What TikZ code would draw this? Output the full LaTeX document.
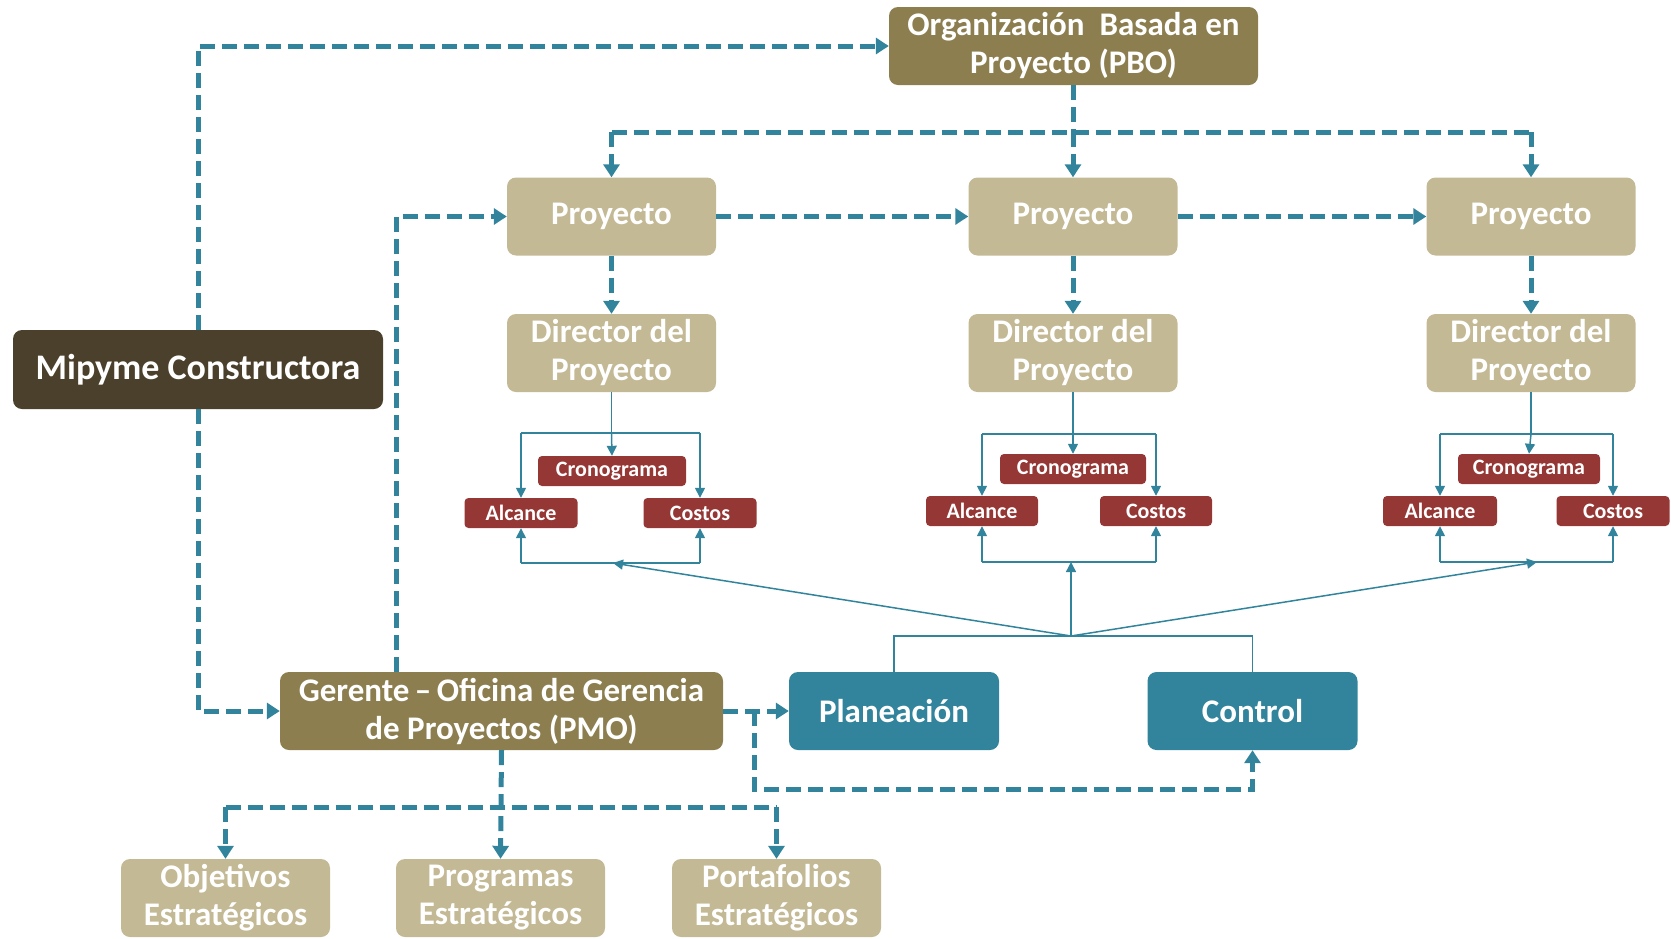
\documentclass[tikz,border=0pt]{standalone}
\usepackage{fontspec}
\setmainfont{Carlito}
\usetikzlibrary{arrows.meta}
\definecolor{olive}{HTML}{8C7E4F}
\definecolor{darkbrown}{HTML}{4B402B}
\definecolor{tan}{HTML}{C4B995}
\definecolor{darkred}{HTML}{953735}
\definecolor{teal}{HTML}{31849B}
\begin{document}
\begin{tikzpicture}[x=1pt,y=-1pt,
  box/.style={rounded corners=9pt, text=white, font=\bfseries\fontsize{33}{38}\selectfont,
    align=center, inner sep=0pt, minimum height=78pt},
  olivebox/.style={box, fill=olive},
  tanbox/.style={box, fill=tan, minimum width=209pt},
  tealbox/.style={box, fill=teal, minimum width=210pt},
  redbox/.style={rounded corners=4pt, fill=darkred, text=white, inner sep=0pt,
    font=\bfseries\fontsize{22}{26}\selectfont, minimum height=30pt},
  dline/.style={draw=teal, line width=5pt, dash pattern=on 15pt off 7pt},
  darrow/.style={dline, -{Triangle[width=16pt,length=13pt]}},
  tline/.style={draw=teal, line width=1.5pt},
  tarrow/.style={tline, -{Triangle[width=10pt,length=10pt]}}
]
\useasboundingbox (0,0) rectangle (1671,938);

% top-level organisation
\node[olivebox, minimum width=369pt] (pbo) at (1073.5,46) {Organización\ \ Basada en\\Proyecto (PBO)};
\node[box, fill=darkbrown, minimum width=370pt, minimum height=79pt,
      font=\bfseries\fontsize{36}{40}\selectfont] (mip) at (198,369.5) {Mipyme Constructora};
\node[olivebox, minimum width=443pt] (pmo) at (501.5,711) {Gerente\,–\,Oficina de Gerencia\\de Proyectos (PMO)};

% projects and their directors
\foreach \i/\x in {1/611.5, 2/1073, 3/1531} {
  \node[tanbox] (p\i) at (\x,216.5) {Proyecto};
  \node[tanbox] (d\i) at (\x,353) {Director del\\Proyecto};
}

% planning and control
\node[tealbox] (plan) at (894,711) {Planeación};
\node[tealbox] (ctrl) at (1252.5,711) {Control};

% strategic items
\node[tanbox] (obj) at (225.5,898) {Objetivos\\Estratégicos};
\node[tanbox] (prog) at (500.5,898) {Programas\\Estratégicos};
\node[tanbox] (port) at (776.5,898) {Portafolios\\Estratégicos};

% triple constraint of each project
\node[redbox, minimum width=148pt] (c1) at (612,471) {Cronograma};
\node[redbox, minimum width=113pt] (a1) at (521,513) {Alcance};
\node[redbox, minimum width=113pt] (k1) at (700,513) {Costos};
\node[redbox, minimum width=146pt] (c2) at (1073,469) {Cronograma};
\node[redbox, minimum width=112pt] (a2) at (982,511) {Alcance};
\node[redbox, minimum width=112pt] (k2) at (1156,511) {Costos};
\node[redbox, minimum width=142pt] (c3) at (1529,469) {Cronograma};
\node[redbox, minimum width=114pt] (a3) at (1440,511) {Alcance};
\node[redbox, minimum width=113pt] (k3) at (1613,511) {Costos};

% director -> constraints (top brackets), and bottom brackets
\foreach \i/\x/\top/\bot/\tip in {1/611.5/433/563/613, 2/1073/434/562/1073, 3/1531/434/562/1537} {
  \coordinate (tl\i) at (a\i.north |- 0,\top);
  \coordinate (tr\i) at (k\i.north |- 0,\top);
  \coordinate (bl\i) at (a\i.south |- 0,\bot);
  \coordinate (br\i) at (k\i.south |- 0,\bot);
  \coordinate (bm\i) at (\tip,\bot);
  \draw[tline] (d\i.south) -- (d\i.south |- tl\i);
  \draw[tarrow] (d\i.south |- tl\i) -- (c\i.north);
  \draw[tline] (tl\i) -- (tr\i);
  \draw[tarrow] (tl\i) -- (a\i.north);
  \draw[tarrow] (tr\i) -- (k\i.north);
  \draw[tline] (bl\i) -- (br\i);
  \draw[tarrow] (bl\i) -- (a\i.south);
  \draw[tarrow] (br\i) -- (k\i.south);
}

% planning and control feed the constraints
\coordinate (fan) at (1071,636);
\draw[tline] (plan.north) |- (fan) -| (ctrl.north);
\draw[tarrow] (fan) -- (bm1);
\draw[tarrow] (fan) -- (fan |- bm2);
\draw[tarrow] (fan) -- (bm3);

% dashed flows
\draw[darrow] (mip.north) |- (pbo.west);
\draw[darrow] (mip.south) |- (pmo.west);
\coordinate (pmoup) at (396,672);
\draw[darrow] (pmoup) |- (p1.west);

\coordinate (hub) at (1073.5,132);
\draw[dline] (pbo.south) -- (hub);
\draw[dline] (p1.north |- hub) -- (p3.north |- hub);
\foreach \i in {1,2,3} {
  \draw[darrow] (p\i.north |- hub) -- (p\i.north);
  \draw[darrow] (p\i.south) -- (d\i.north);
}
\draw[darrow] (p1.east) -- (p2.west);
\draw[darrow] (p2.east) -- (p3.west);

\draw[darrow] (pmo.east) -- (plan.west);
\coordinate (split) at (754,711);
\draw[darrow] (split) |- (1252.5,789) -- (ctrl.south);

\coordinate (bar) at (501.5,807);
\draw[darrow] (pmo.south) -- (prog.north);
\draw[dline] (obj.north |- bar) -- (port.north |- bar);
\draw[darrow] (obj.north |- bar) -- (obj.north);
\draw[darrow] (port.north |- bar) -- (port.north);
\end{tikzpicture}
\end{document}
